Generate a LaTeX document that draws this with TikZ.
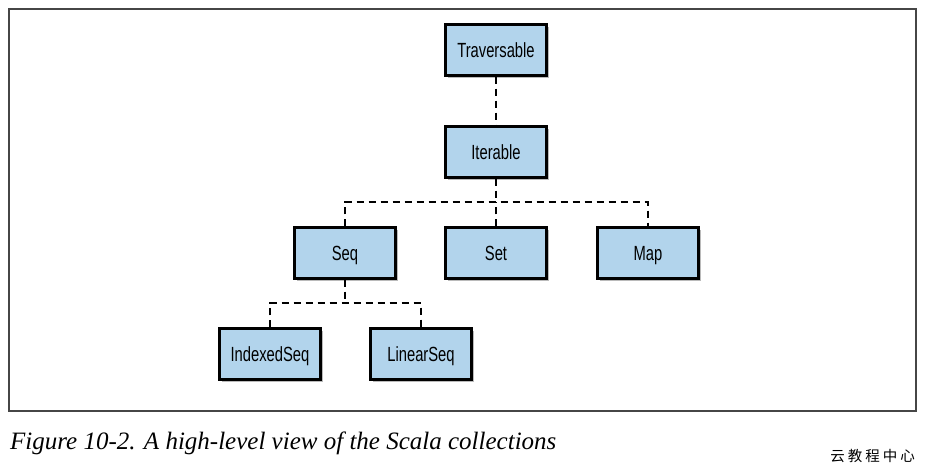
\documentclass[tikz,border=0pt]{standalone}
\usepackage{fontspec}
\usetikzlibrary{shadows}
\newfontfamily\boxfont[FakeStretch=0.72]{Liberation Sans}
\newfontfamily\capfont{Liberation Serif}
\newfontfamily\cjk{Noto Sans CJK SC}
\definecolor{classblue}{RGB}{178, 212, 236}
\definecolor{framegray}{RGB}{70, 70, 70}

\tikzset{
    classbox/.style={draw=black, line width=2.1pt, fill=classblue,
        minimum width=101pt, minimum height=51pt, inner sep=0pt,
        text height=17pt, text depth=3pt,
        font=\boxfont\fontsize{20.5}{24}\selectfont,
        drop shadow={shadow xshift=2pt, shadow yshift=-2.5pt, fill=black!45, opacity=0.6}},
    link/.style={line width=2.2pt, dash pattern=on 7pt off 5pt}
}

\begin{document}
\begin{tikzpicture}[x=1pt, y=-1pt]
    % Canvas
    \useasboundingbox (0,0) rectangle (931,466);
    \draw[framegray, line width=1.2pt] (9,9) rectangle (916,411);

    % 1. Classes
    \node[classbox] (Traversable) at (496,50)  {Traversable};
    \node[classbox] (Iterable)    at (496,152) {Iterable};
    \node[classbox] (Seq)         at (345,253) {Seq};
    \node[classbox] (Set)         at (496,253) {Set};
    \node[classbox] (Map)         at (648,253) {Map};
    \node[classbox] (IndexedSeq)  at (270,354) {IndexedSeq};
    \node[classbox] (LinearSeq)   at (421,354) {LinearSeq};

    % 2. Junction points
    \coordinate (bus)  at (496,202);
    \coordinate (sbus) at (345,303);

    % 3. Dashed links
    \draw[link] (Traversable.south) -- (Iterable.north);
    \draw[link] (Iterable.south) -- (bus);
    \draw[link] (Seq.north) |- (bus) -| (Map.north);
    \draw[link] (Set.north) -- (bus);
    \draw[link] (Seq.south) -- (sbus);
    \draw[link] (IndexedSeq.north) |- (sbus) -| (LinearSeq.north);

    % 4. Caption
    \node[anchor=base west, inner sep=0pt, font=\capfont\fontsize{25}{29}\selectfont\itshape]
        (caption) at (10,449) {Figure 10-2. A high-level view of the Scala collections};
    \node[anchor=base east, inner sep=0pt, font=\cjk\fontsize{14.5}{16}\selectfont]
        (site) at (915,461) {云\hspace{3pt}教\hspace{3pt}程\hspace{3pt}中\hspace{3pt}心};
\end{tikzpicture}
\end{document}
